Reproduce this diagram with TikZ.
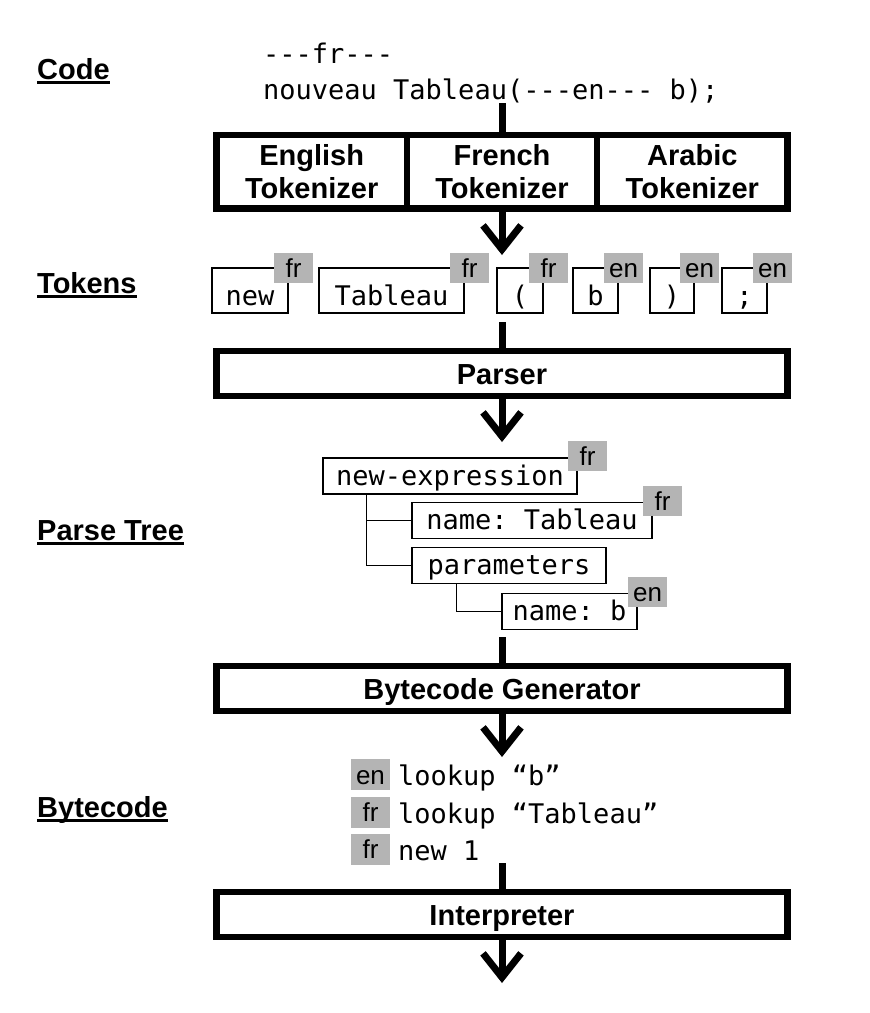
\documentclass[tikz,border=0pt]{standalone}
\usepackage{fontspec}
\setmainfont{Liberation Sans}
\setmonofont{DejaVu Sans Mono}
\usetikzlibrary{arrows.meta,calc}
\definecolor{taggray}{RGB}{180,180,180}
\begin{document}
\begin{tikzpicture}[x=1pt,y=-1pt,
  stage/.style={draw,line width=6.5pt,minimum width=571pt,minimum height=45pt,inner sep=0pt,font=\bfseries\fontsize{29}{33}\selectfont,text height=21pt,text depth=0pt},
  tokz/.style={draw,line width=6.5pt,minimum width=190.33pt,minimum height=73.5pt,inner sep=0pt,align=center,font=\bfseries\fontsize{29}{33}\selectfont},
  tok/.style={draw,line width=1.3pt,minimum height=45pt,inner sep=0pt,font=\ttfamily\fontsize{27}{32}\selectfont,text height=29pt,text depth=0pt},
  tnode/.style={draw,line width=1.3pt,minimum height=36pt,inner sep=0pt,font=\ttfamily\fontsize{27}{32}\selectfont,text height=18pt,text depth=0pt},
  tag/.style={fill=taggray,minimum width=39pt,minimum height=30pt,inner sep=0pt,font=\fontsize{26}{30}\selectfont,text height=19pt,text depth=0pt},
  conn/.style={line width=7pt},
  arr/.style={line width=7pt,-{Straight Barb[length=24pt,width=38pt]}},
  treeline/.style={line width=1.3pt},
  lbl/.style={font=\bfseries\fontsize{29}{33}\selectfont,anchor=base west,inner sep=0pt},
  code/.style={font=\ttfamily\fontsize{27}{32}\selectfont,anchor=base west,inner sep=0pt},
  ul/.style={line width=2.2pt}
]
\useasboundingbox (0,0) rectangle (870,1013);

% section labels
\node[lbl] (lcode) at (37,79) {Code};
\node[lbl] (ltok) at (37,293) {Tokens};
\node[lbl] (ltree) at (37,540) {Parse Tree};
\node[lbl] (lbc) at (37,817) {Bytecode};
\foreach \n in {lcode,ltok,ltree,lbc}
  \draw[ul] ([yshift=-3.5pt]\n.base west) -- ([yshift=-3.5pt]\n.base east);

% code
\node[code] (code1) at (263,63) {---fr---};
\node[code] (code2) at (263,99) {nouveau Tableau(---en--- b);};

% tokenizers
\node[tokz] (tken) at (311.67,171.75) {English\\Tokenizer};
\node[tokz] (tkfr) at (502,171.75) {French\\Tokenizer};
\node[tokz] (tkar) at (692.33,171.75) {Arabic\\Tokenizer};

% tokens
\node[tok,minimum width=76pt] (tnew) at (250,290.5) {new};
\node[tok,minimum width=145pt] (ttab) at (391.5,290.5) {Tableau};
\node[tok,minimum width=46pt] (tlp) at (520,290.5) {(};
\node[tok,minimum width=45pt] (tb) at (595.5,290.5) {b};
\node[tok,minimum width=44pt] (trp) at (672,290.5) {)};
\node[tok,minimum width=45pt] (tsc) at (744.5,290.5) {;};
\node[tag] (gnew) at ($(tnew.north east)+(5,1)$) {fr};
\node[tag] (gtab) at ($(ttab.north east)+(5,1)$) {fr};
\node[tag] (glp) at ($(tlp.north east)+(5,1)$) {fr};
\node[tag] (gb) at ($(tb.north east)+(5,1)$) {en};
\node[tag] (grp) at ($(trp.north east)+(5,1)$) {en};
\node[tag] (gsc) at ($(tsc.north east)+(5,1)$) {en};

% stages
\node[stage] (parser) at (502,373.5) {Parser};
\node[stage] (bcg) at (502,688.5) {Bytecode Generator};
\node[stage] (interp) at (502,914.5) {Interpreter};

% parse tree
\node[tnode,minimum width=254pt] (nexp) at (450,476) {new-expression};
\node[tnode,minimum width=240pt] (ntab) at (532,520.5) {name: Tableau};
\node[tnode,minimum width=194pt] (npar) at (509,565.5) {parameters};
\node[tnode,minimum width=135pt] (nb) at (569.5,611.5) {name: b};
\node[tag] (gexp) at ($(nexp.north east)+(10,-1)$) {fr};
\node[tag] (gntab) at ($(ntab.north east)+(10,-1)$) {fr};
\node[tag] (gnb) at ($(nb.north east)+(10,-1)$) {en};
\coordinate (trunk) at ([xshift=44pt]nexp.south west);
\draw[treeline] (trunk) |- (npar.west);
\draw[treeline] (ntab.west) -- (ntab.west -| trunk);
\draw[treeline] ([xshift=45pt]npar.south west) |- (nb.west);

% bytecode
\node[code] (bc1) at (398,785) {lookup “b”};
\node[code] (bc2) at (398,823) {lookup “Tableau”};
\node[code] (bc3) at (398,860) {new 1};
\node[tag,minimum height=31pt] (gbc1) at (370.5,774.5) {en};
\node[tag,minimum height=31pt] (gbc2) at (370.5,812) {fr};
\node[tag,minimum height=31pt] (gbc3) at (370.5,849) {fr};

% connectors
\coordinate (c0) at (502,103);
\coordinate (c1) at (502,322);
\coordinate (c2) at (502,637);
\coordinate (c3) at (502,863);
\coordinate (a1) at (502,255);
\coordinate (a2) at (502,442);
\coordinate (a3) at (502,757);
\coordinate (a4) at (502,983);
\draw[conn] (c0) -- (tkfr.north);
\draw[arr] (tkfr.south) -- (a1);
\draw[conn] (c1) -- (parser.north);
\draw[arr] (parser.south) -- (a2);
\draw[conn] (c2) -- (bcg.north);
\draw[arr] (bcg.south) -- (a3);
\draw[conn] (c3) -- (interp.north);
\draw[arr] (interp.south) -- (a4);
\end{tikzpicture}
\end{document}
